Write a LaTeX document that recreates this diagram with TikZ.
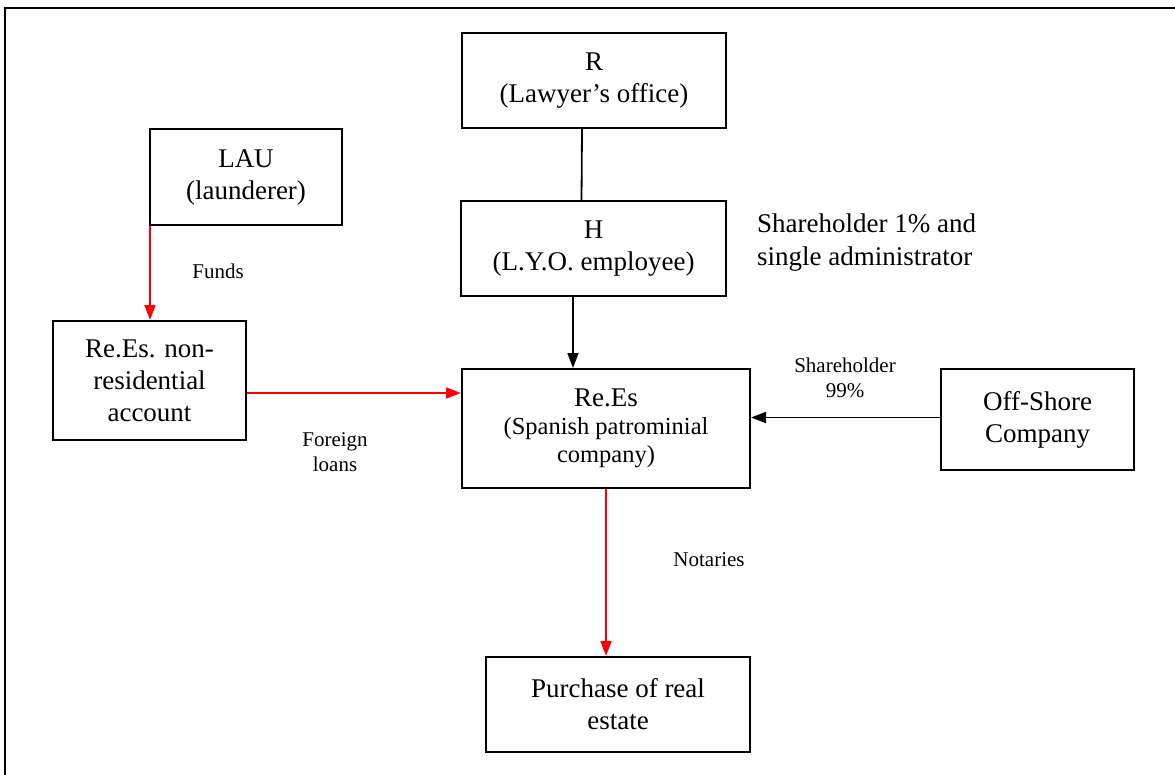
\documentclass[tikz,border=0pt]{standalone}
\usepackage{fontspec}
\setmainfont{Liberation Serif}
\usetikzlibrary{arrows.meta}
\tikzset{
  box/.style={draw, line width=2pt, inner sep=0pt, align=center, font=\fontsize{27}{32}\selectfont},
  lbl/.style={inner sep=0pt, align=center, font=\fontsize{21}{25}\selectfont},
  side/.style={inner sep=0pt, align=left, anchor=west, font=\fontsize{27}{33}\selectfont},
  conn/.style={line width=1.8pt},
  arr/.style={conn, -{Triangle[length=15pt,width=11pt]}},
  redarr/.style={arr, red},
}
\begin{document}
\begin{tikzpicture}[x=1pt,y=-1pt]
\useasboundingbox (0,0) rectangle (1175,774);
\fill[white] (0,0) rectangle (1175,774);
\draw[line width=2.4pt] (5,776) -- (5,8) -- (1177,8);

\node[box, minimum width=264pt, minimum height=95pt] (R) at (594,80.5) {R\\(Lawyer’s office)};
\node[box, minimum width=192pt, minimum height=96pt] (LAU) at (246,177) {LAU\\(launderer)};
\node[box, minimum width=265pt, minimum height=95pt] (H) at (593.5,248.5) {H\\(L.Y.O. employee)};
\node[box, minimum width=193pt, minimum height=119pt] (acc) at (149.5,380.5) {Re.Es. non-\\residential\\account};
\node[box, minimum width=288pt, minimum height=119pt, font=\fontsize{24.5}{28}\selectfont] (ReEs) at (606,428.5) {{\fontsize{27}{28}\selectfont Re.Es}\\(Spanish patrominial\\company)};
\node[box, minimum width=193pt, minimum height=101pt] (off) at (1037.5,419.5) {Off-Shore\\Company};
\node[box, minimum width=264pt, minimum height=95pt] (P) at (618,704.5) {Purchase of real\\estate};

\node[side] (sh1) at (757,243) {Shareholder 1\% and\\single administrator};
\node[lbl] (funds) at (218,271) {Funds};
\node[lbl] (loans) at (335,452) {Foreign\\loans};
\node[lbl] (sh99) at (845,378) {Shareholder\\99\%};
\node[lbl] (not) at (709,560) {Notaries};

\draw[conn] ([xshift=-12pt]R.south) -- ([xshift=-12pt]H.north);
\draw[arr] ([xshift=-20.5pt]H.south) -- ([xshift=-20.5pt]H.south |- ReEs.north);
\draw[redarr] ([xshift=1pt]LAU.south west) -- ([xshift=1pt]LAU.south west |- acc.north);
\draw[redarr] ([yshift=-12.5pt]acc.east) -- ([yshift=-12.5pt]acc.east -| ReEs.west);
\draw[arr] ([yshift=2pt]off.west) -- ([yshift=2pt]off.west -| ReEs.east);
\draw[redarr] (ReEs.south) -- (ReEs.south |- P.north);
\end{tikzpicture}
\end{document}
